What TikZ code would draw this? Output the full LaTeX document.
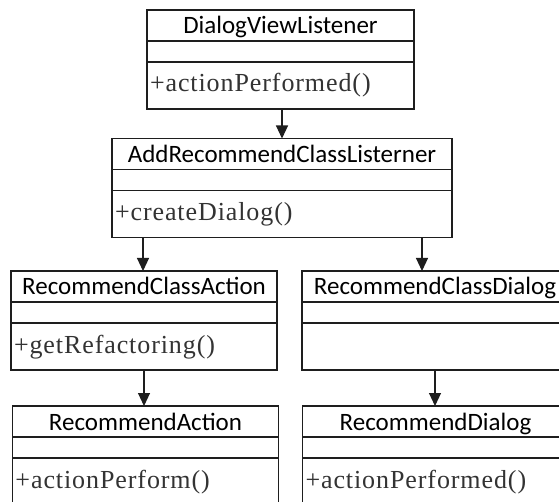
\documentclass[tikz,border=0pt]{standalone}
\usepackage{fontspec}
\setmainfont{Carlito}
\newfontfamily\methfont[LetterSpace=3.5]{Liberation Serif}
\usetikzlibrary{arrows.meta,calc}
\definecolor{linec}{HTML}{1E1E1E}
\definecolor{methc}{HTML}{333333}
\tikzset{
  part/.style={draw=linec, line width=1.2pt, inner xsep=0pt, inner ysep=0pt, outer sep=0pt},
  hdr/.style={part, minimum height=31pt, text height=24pt, text depth=7pt, font=\fontsize{25}{25}\selectfont, text=black},
  attr/.style={part, minimum height=21pt},
  meth/.style={part, minimum height=47pt, text height=30pt, text depth=17pt, inner xsep=3pt, align=left, font=\methfont\fontsize{26}{26}\selectfont, text=methc},
  conn/.style={draw=linec, line width=1.1pt, -{Triangle[width=12pt,length=13pt]}}
}
\newcommand{\umlclass}[6]{%
  \node[hdr, minimum width=#4pt, anchor=north west] (#1h) at (#2,#3) {#5};
  \node[attr, minimum width=#4pt, anchor=north] (#1a) at (#1h.south) {};
  \node[meth, minimum width=#4pt, text width=#4pt-6pt, anchor=north] (#1m) at (#1a.south) {#6};
}
\begin{document}
\begin{tikzpicture}[x=1pt,y=-1pt]
\useasboundingbox[fill=white] (0,0) rectangle (559,502);
\clip (0,0) rectangle (559,502);
\umlclass{b1}{147}{10}{267}{DialogViewListener}{+actionPerformed()}
\umlclass{b2}{112}{138.5}{340}{AddRecommendClassListerner}{+createDialog()}
\umlclass{b3}{11}{271}{266}{RecommendClassAction}{+getRefactoring()}
\umlclass{b4}{12.5}{406}{266}{RecommendAction}{+actionPerform()}
\umlclass{b5}{302}{271}{266}{RecommendClassDialog}{}
\umlclass{b6}{302.5}{406}{266}{RecommendDialog}{+actionPerformed()}
\coordinate (s2l) at ($(b2m.south west)+(31,0)$);
\coordinate (s2r) at ($(b2m.south east)+(-30,0)$);
\draw[conn] (b2h.north |- b1m.south) -- (b2h.north);
\draw[conn] (s2l) -- (s2l |- b3h.north);
\draw[conn] (s2r) -- (s2r |- b5h.north);
\draw[conn] (b3m.south) -- (b3m.south |- b4h.north);
\draw[conn] (b5m.south) -- (b5m.south |- b6h.north);
\end{tikzpicture}
\end{document}
